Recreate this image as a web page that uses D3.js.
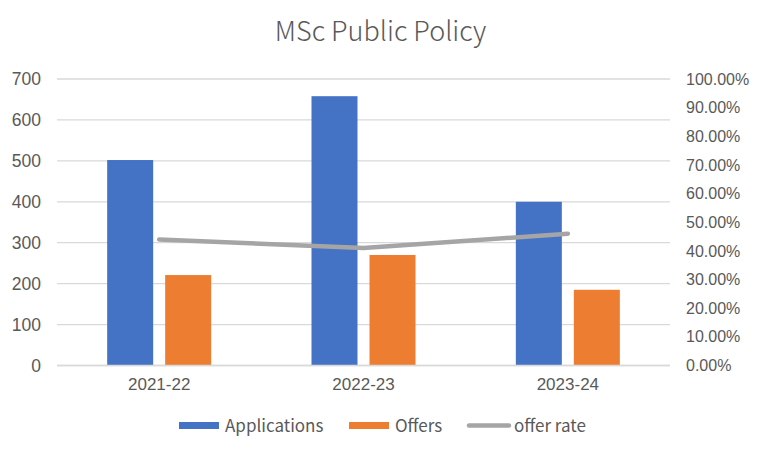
<!DOCTYPE html>
<html><head><meta charset="utf-8">
<script src="https://cdn.jsdelivr.net/npm/d3@7"></script>
<style>body{margin:0;background:#fff;} svg{display:block;}</style>
</head><body>
<script>
const categories = ["2021-22", "2022-23", "2023-24"];
const applications = [502, 658, 400];
const offers = [221, 270, 185];
const offerRate = [0.44, 0.41, 0.46];
const leftTicks = [0, 100, 200, 300, 400, 500, 600, 700];
const rightTicks = [0, 0.1, 0.2, 0.3, 0.4, 0.5, 0.6, 0.7, 0.8, 0.9, 1.0];
const seriesNames = ["Applications", "Offers", "offer rate"];
const colors = ["#4472C4", "#ED7D31", "#A5A5A5"];

const W = 759, H = 453;
const svg = d3.select("body").append("svg").attr("width", W).attr("height", H);
const plot = {left: 57, right: 670, top: 79, bottom: 365.5};
const txt = "#595959";
const font = "'Liberation Sans', Arial, sans-serif";
const cjk = "'Noto Sans CJK SC', 'Noto Sans', sans-serif";

const x = d3.scaleBand().domain(categories).range([plot.left, plot.right]);
const yL = d3.scaleLinear().domain([0, 700]).range([plot.bottom, plot.top]);
const yR = d3.scaleLinear().domain([0, 1]).range([plot.bottom, plot.top]);

// gridlines
svg.append("g").selectAll("line").data(leftTicks).join("line")
  .attr("x1", plot.left).attr("x2", plot.right)
  .attr("y1", d => yL(d)).attr("y2", d => yL(d))
  .attr("stroke", "#D9D9D9").attr("stroke-width", 1.3);

// left axis
const gl = svg.append("g").attr("transform", `translate(${plot.left},0)`)
  .call(d3.axisLeft(yL).tickValues(leftTicks).tickSize(0).tickPadding(16));
gl.select(".domain").remove();
gl.selectAll("text").attr("fill", txt).style("font-family", font).style("font-size", "17.5px");

// right axis
const gr = svg.append("g").attr("transform", `translate(${plot.right},0)`)
  .call(d3.axisRight(yR).tickValues(rightTicks).tickSize(0).tickPadding(16).tickFormat(d3.format(".2%")));
gr.select(".domain").remove();
gr.selectAll("text").attr("fill", txt).style("font-family", font).style("font-size", "16px");

// bars
const barW = 46, gap = 12;
const off = (x.bandwidth() - (2 * barW + gap)) / 2;
svg.append("g").selectAll("rect").data(categories).join("rect")
  .attr("x", (d) => x(d) + off).attr("width", barW)
  .attr("y", (d, i) => yL(applications[i])).attr("height", (d, i) => plot.bottom - yL(applications[i]))
  .attr("fill", colors[0]);
svg.append("g").selectAll("rect").data(categories).join("rect")
  .attr("x", (d) => x(d) + off + barW + gap).attr("width", barW)
  .attr("y", (d, i) => yL(offers[i])).attr("height", (d, i) => plot.bottom - yL(offers[i]))
  .attr("fill", colors[1]);

// baseline
svg.append("line").attr("x1", plot.left).attr("x2", plot.right)
  .attr("y1", plot.bottom).attr("y2", plot.bottom).attr("stroke", "#D9D9D9").attr("stroke-width", 1.3);

// line
const line = d3.line().x((d, i) => x(categories[i]) + x.bandwidth() / 2).y(d => yR(d));
svg.append("path").datum(offerRate).attr("d", line)
  .attr("fill", "none").attr("stroke", colors[2]).attr("stroke-width", 4.5)
  .attr("stroke-linecap", "round").attr("stroke-linejoin", "round");

// x axis labels
const gx = svg.append("g").attr("transform", `translate(0,${plot.bottom})`)
  .call(d3.axisBottom(x).tickSize(0).tickPadding(12));
gx.select(".domain").remove();
gx.selectAll("text").attr("fill", txt).style("font-family", font).style("font-size", "17px");

// title
svg.append("text").attr("x", 380.5).attr("y", 41).attr("text-anchor", "middle")
  .attr("fill", txt).style("font-family", cjk).style("font-weight", 300)
  .style("font-size", "27px").text("MSc Public Policy");

// legend
const legX = [179, 349, 467];
const leg = svg.append("g");
seriesNames.forEach((name, i) => {
  if (i < 2) {
    leg.append("rect").attr("x", legX[i]).attr("y", 422).attr("width", 40).attr("height", 7).attr("fill", colors[i]);
  } else {
    leg.append("line").attr("x1", legX[i] + 2).attr("x2", legX[i] + 42).attr("y1", 425.5).attr("y2", 425.5)
      .attr("stroke", colors[i]).attr("stroke-width", 4.5).attr("stroke-linecap", "round");
  }
  leg.append("text").attr("x", legX[i] + (i < 2 ? 46 : 47)).attr("y", 432)
    .attr("fill", txt).style("font-family", cjk)
    .style("font-size", "17px").text(name);
});
</script>
</body></html>
